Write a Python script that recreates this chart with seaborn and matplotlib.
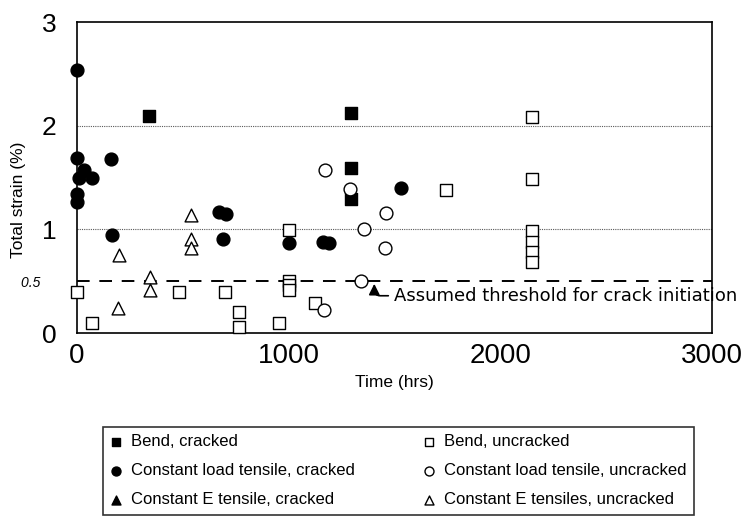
import matplotlib
matplotlib.use("Agg")
import matplotlib.pyplot as plt
import seaborn as sns

# values (time in hrs, total strain in %)
bend_cracked_t = [340, 1296, 1296, 1296]
bend_cracked_s = [2.09, 2.12, 1.59, 1.29]

cl_cracked_t = [0, 0, 0, 0, 10, 35, 70, 160, 165, 670, 705, 690, 1000, 1165, 1190, 1530]
cl_cracked_s = [2.54, 1.69, 1.34, 1.26, 1.50, 1.57, 1.50, 1.68, 0.95, 1.17, 1.15, 0.91, 0.87, 0.88, 0.87, 1.40]

ce_cracked_t = []
ce_cracked_s = []

bend_uncracked_t = [0, 70, 480, 700, 765, 765, 955, 1000, 1000, 1000, 1000, 1125, 1745,
                    2150, 2150, 2150, 2150, 2150, 2150]
bend_uncracked_s = [0.40, 0.10, 0.40, 0.40, 0.20, 0.055, 0.10, 0.99, 0.505, 0.46, 0.42, 0.29, 1.38,
                    2.08, 1.49, 0.98, 0.88, 0.78, 0.69]

cl_uncracked_t = [1170, 1288, 1167, 1358, 1343, 1461, 1456]
cl_uncracked_s = [1.57, 1.39, 0.22, 1.0, 0.505, 1.16, 0.82]

ce_uncracked_t = [200, 195, 344, 344, 541, 541, 541]
ce_uncracked_s = [0.75, 0.24, 0.54, 0.42, 1.14, 0.91, 0.82]

threshold = 0.5
x_ticks = [0, 1000, 2000, 3000]
y_ticks = [0, 0.5, 1, 2, 3]
y_tick_labels = ["0", "0.5    ", "1", "2", "3"]

sns.set_style("white")
plt.rcParams["font.family"] = ["Liberation Sans", "DejaVu Sans"]
plt.rcParams.update({"text.color": "k", "axes.labelcolor": "k",
                     "xtick.color": "k", "ytick.color": "k"})

fig = plt.figure(figsize=(7.43, 5.18), dpi=100)
ax = fig.add_axes([0.1036, 0.357, 0.8544, 0.6005])

# reference lines
ax.axhline(1, color="0.35", lw=0.8, ls=(0, (1, 1)), zorder=1)
ax.axhline(2, color="0.35", lw=0.8, ls=(0, (1, 1)), zorder=1)
ax.axhline(threshold, color="k", lw=1.4, ls=(0, (6.5, 5)), zorder=1)

ms = 85
common = dict(s=ms, edgecolor="k", linewidth=1, ax=ax, zorder=3, clip_on=False)
sns.scatterplot(x=bend_cracked_t, y=bend_cracked_s, marker="s", color="k",
                label="Bend, cracked", **common)
sns.scatterplot(x=cl_cracked_t, y=cl_cracked_s, marker="o", color="k",
                label="Constant load tensile, cracked", **common)
ax.scatter(ce_cracked_t, ce_cracked_s, marker="^", s=ms, color="k",
           label="Constant E tensile, cracked")
sns.scatterplot(x=bend_uncracked_t, y=bend_uncracked_s, marker="s", color="white",
                label="Bend, uncracked", **common)
sns.scatterplot(x=cl_uncracked_t, y=cl_uncracked_s, marker="o", color="white",
                label="Constant load tensile, uncracked", **common)
sns.scatterplot(x=ce_uncracked_t, y=ce_uncracked_s, marker="^", color="white",
                label="Constant E tensiles, uncracked", **common)

ax.annotate("Assumed threshold for crack initiation", xy=(1405, 0.475), xytext=(1500, 0.36),
            fontsize=13, family="DejaVu Sans", va="center", ha="left",
            arrowprops=dict(arrowstyle="-|>,head_length=0.5,head_width=0.25", color="k", lw=1.2,
                            connectionstyle="angle,angleA=0,angleB=90,rad=6",
                            shrinkA=2, shrinkB=0))

ax.set_xlim(0, 3000)
ax.set_ylim(0, 3)
ax.set_xticks(x_ticks)
ax.set_xticks([500, 1500, 2500], minor=True)
ax.set_yticks(y_ticks)
ax.set_yticklabels(y_tick_labels)
ax.tick_params(axis="x", which="both", direction="inout", length=9, width=1, pad=3, labelsize=20)
ax.tick_params(axis="y", length=0, pad=15, labelsize=19)
for lab in ax.get_yticklabels():
    if lab.get_text().strip() == "0.5":
        lab.set_fontsize(10)
        lab.set_fontstyle("italic")
for sp in ax.spines.values():
    sp.set_color("k")
    sp.set_linewidth(1.2)

ax.set_xlabel("Time (hrs)", fontsize=12.5, labelpad=4)
ax.set_ylabel("Total strain (%)", fontsize=12.5)
ax.yaxis.set_label_coords(-0.08, 0.43)

handles, labels = ax.get_legend_handles_labels()
order = ["Bend, cracked", "Constant load tensile, cracked", "Constant E tensile, cracked",
         "Bend, uncracked", "Constant load tensile, uncracked", "Constant E tensiles, uncracked"]
hmap = dict(zip(labels, handles))
ax.legend_.remove()
leg = fig.legend([hmap[l] for l in order], order, ncol=2, loc="lower left",
                 bbox_to_anchor=(0.139, 0.006, 0.795, 0.168), mode="expand",
                 fontsize=12, markerscale=0.7, frameon=True, fancybox=False,
                 edgecolor="k", handlelength=0.6, handletextpad=0.6,
                 labelspacing=0.85, borderpad=0.45, borderaxespad=0)
leg.get_frame().set_linewidth(1.2)

fig.savefig("out.png", dpi=100)
